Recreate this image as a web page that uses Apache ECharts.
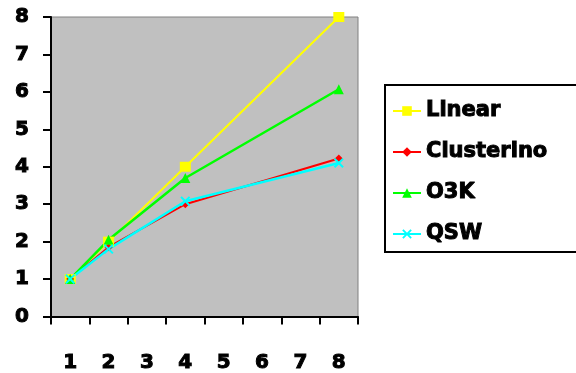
<!DOCTYPE html>
<html>
<head>
<meta charset="utf-8">
<script src="https://cdn.jsdelivr.net/npm/echarts@6/dist/echarts.min.js"></script>
<style>
html,body{margin:0;padding:0;background:#fff;}
#chart{width:576px;height:373px;}
</style>
</head>
<body>
<div id="chart"></div>
<script>
const categories = ['1','2','3','4','5','6','7','8'];
const linear =     [1, 2,    null, 4,    null, null, null, 8];
const clusterino = [1, 1.85, null, 3.0,  null, null, null, 4.22];
const o3k =        [1, 2.05, null, 3.7,  null, null, null, 6.07];
const qsw =        [1, 1.8,  null, 3.08, null, null, null, 4.1];
const yTicks = [0,1,2,3,4,5,6,7,8];

const font = 'DejaVu Sans';
const xPath = 'path://M0,1.4L1.4,0L5,3.6L8.6,0L10,1.4L6.4,5L10,8.6L8.6,10L5,6.4L1.4,10L0,8.6L3.6,5Z';
const txt = {fontFamily:font, fontWeight:'bold', color:'#000', textBorderColor:'#000', textBorderWidth:1};

const chart = echarts.init(document.getElementById('chart'), null, {renderer:'canvas'});
function mk(name, data, color, symbol, size, width){
  return {
    name, type:'line', data, connectNulls:true,
    symbol, symbolSize:size, showAllSymbol:true,
    lineStyle:{color, width},
    itemStyle:{color, borderWidth:0},
    emphasis:{disabled:true},
    animation:false
  };
}
chart.setOption({
  animation:false,
  grid:{left:51, top:17, right:218, bottom:56, show:true, backgroundColor:'#C0C0C0', borderColor:'#808080', borderWidth:1},
  graphic:[{
    type:'rect', left:384, top:84, z:-1,
    shape:{width:220, height:167},
    style:{fill:'#fff', stroke:'#000', lineWidth:2}
  }],
  legend:{
    orient:'vertical', left:384, top:84,
    padding:[16, 20, 9, 8],
    itemWidth:28, itemHeight:12, itemGap:19,
    textStyle:Object.assign({fontSize:21}, txt),
    data:['Linear','Clusterino','O3K','QSW']
  },
  xAxis:{
    type:'category', data:categories, boundaryGap:true,
    axisLine:{lineStyle:{color:'#000', width:2}},
    axisTick:{show:true, length:8, lineStyle:{color:'#000', width:2}, alignWithLabel:false},
    axisLabel:Object.assign({margin:36, fontSize:20}, txt),
    splitLine:{show:false}
  },
  yAxis:{
    type:'value', min:yTicks[0], max:yTicks[yTicks.length-1], interval:1,
    axisLine:{show:true, lineStyle:{color:'#000', width:2}},
    axisTick:{show:true, length:8, lineStyle:{color:'#000', width:2}},
    axisLabel:Object.assign({margin:22, fontSize:20}, txt),
    splitLine:{show:false}
  },
  series:[
    mk('Linear', linear, '#FFFF00', 'rect', [11,10], 2),
    mk('Clusterino', clusterino, '#FF0000', 'diamond', 8, 2),
    mk('O3K', o3k, '#00FF00', 'triangle', 10, 2.5),
    mk('QSW', qsw, '#00FFFF', xPath, 10, 2.5)
  ]
});
</script>
</body>
</html>
